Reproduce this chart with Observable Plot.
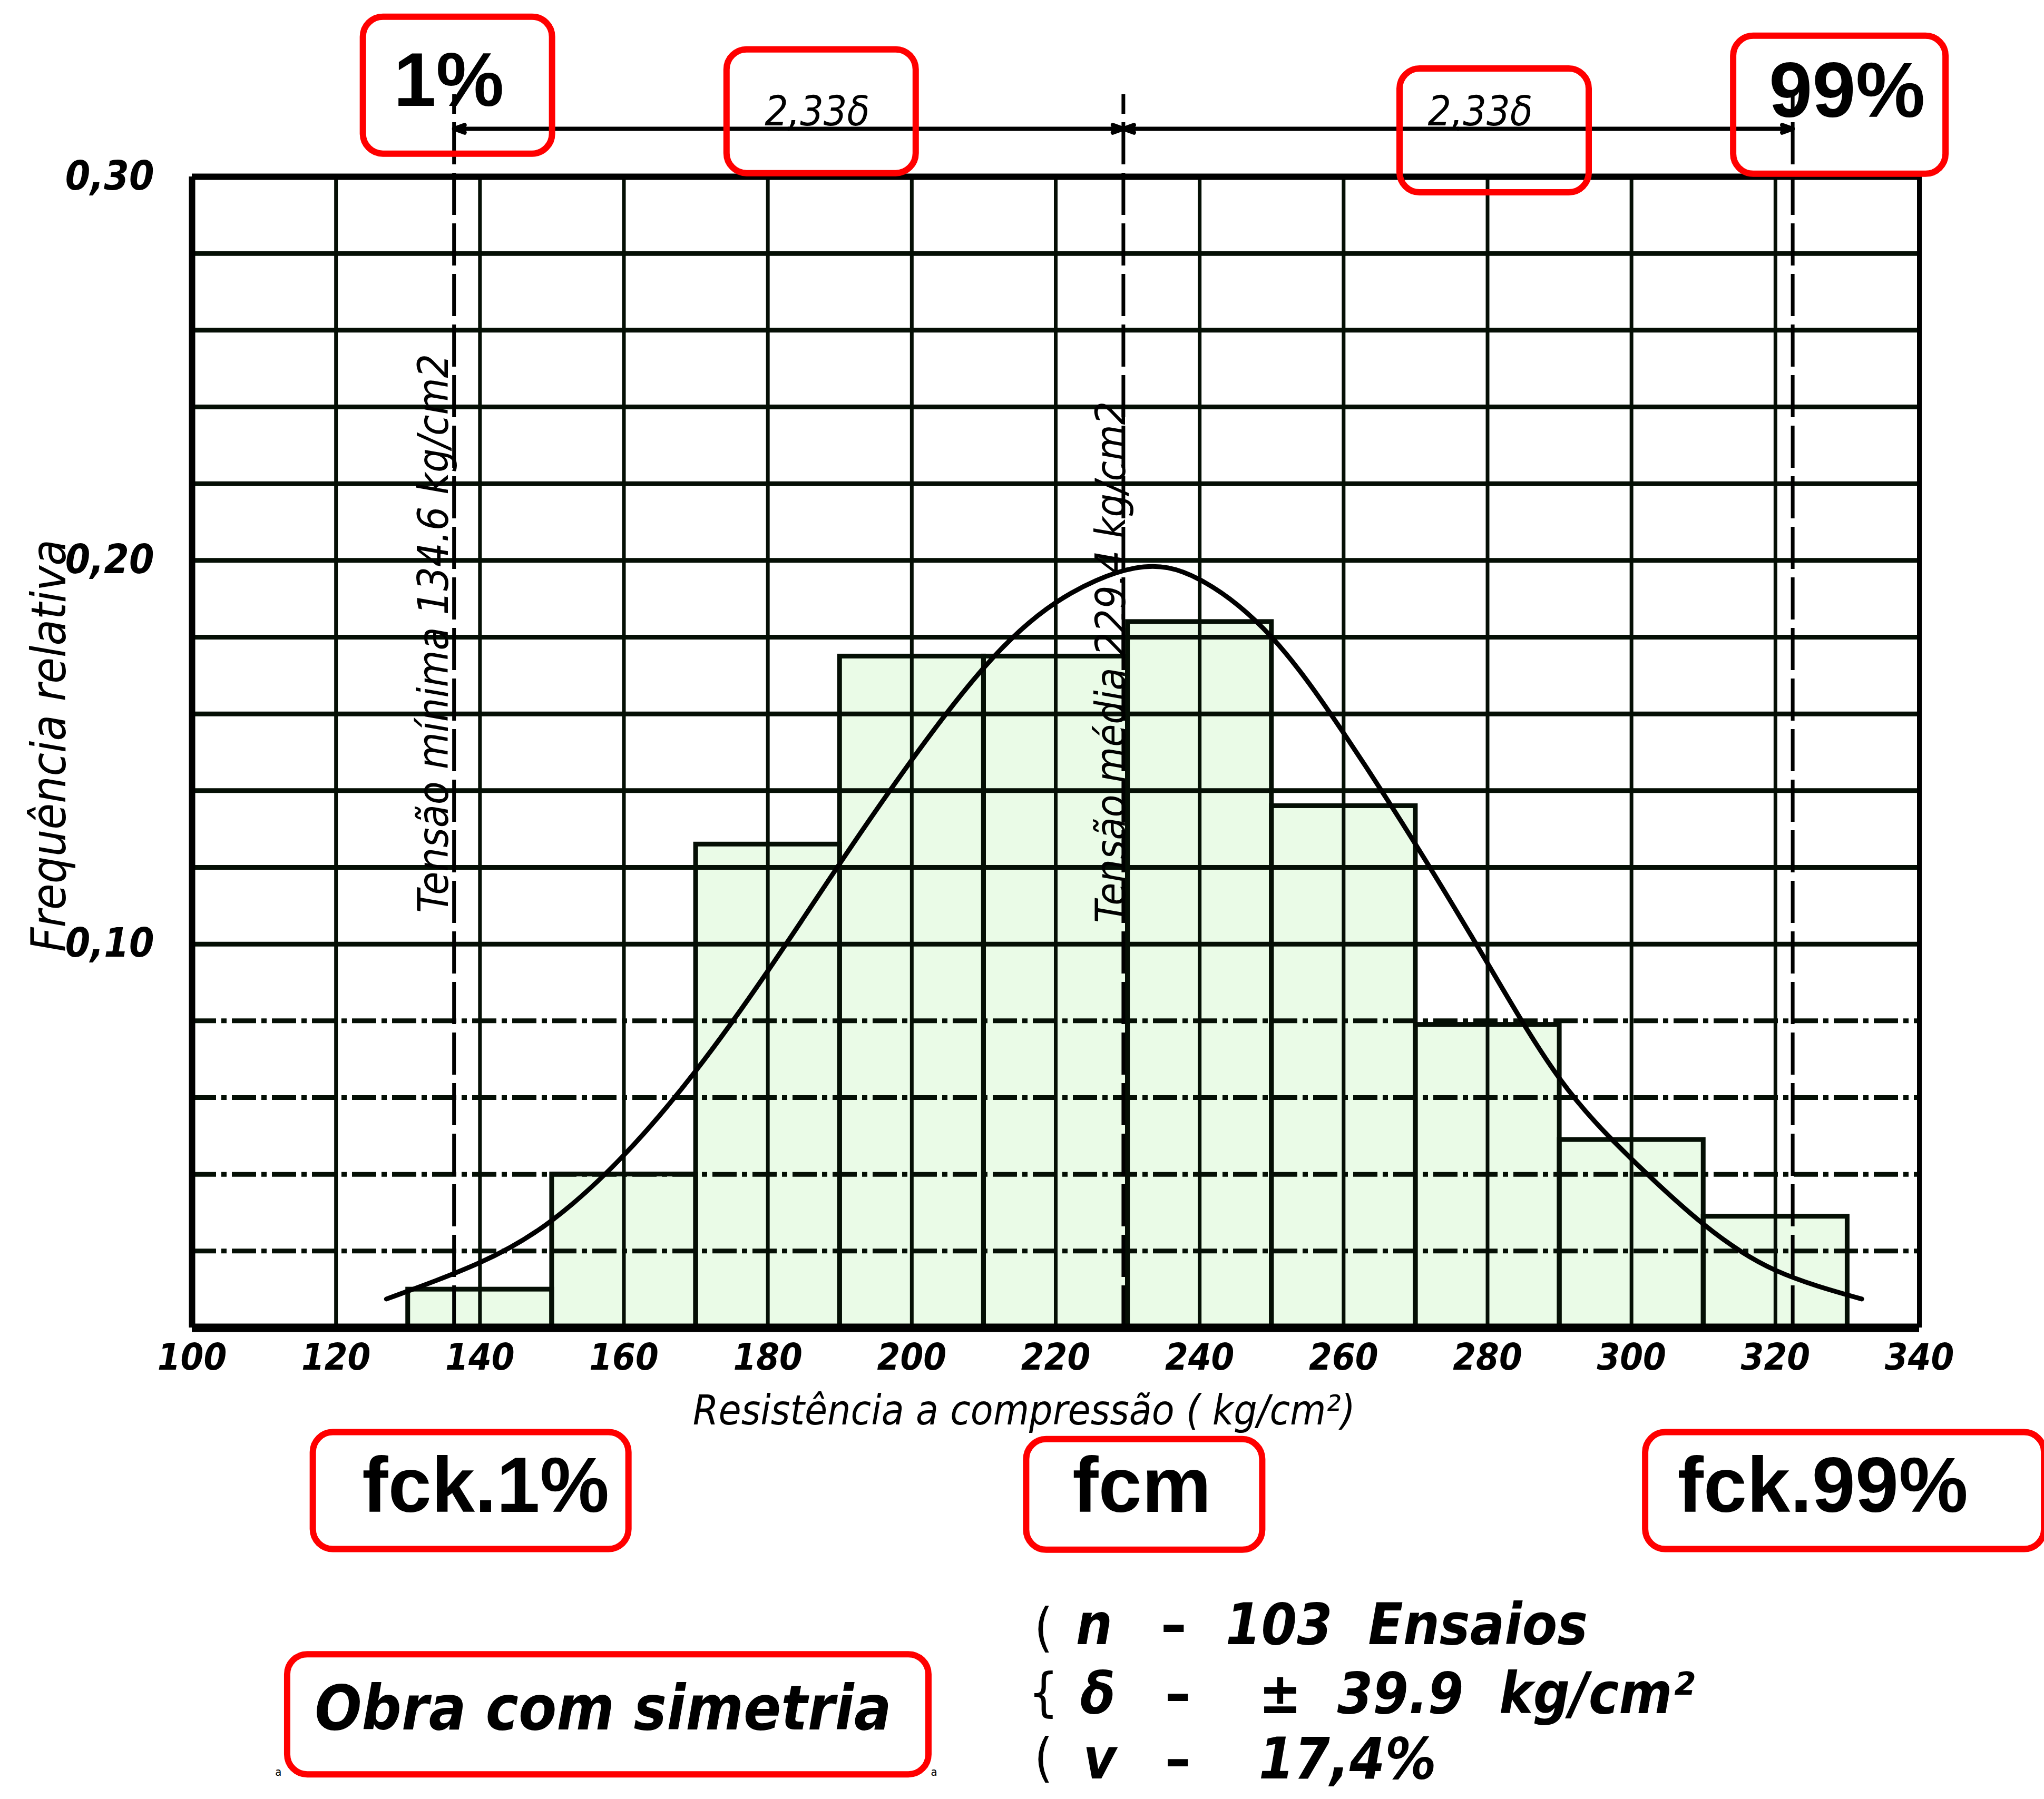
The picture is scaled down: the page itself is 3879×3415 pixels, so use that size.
<!DOCTYPE html>
<html>
<head>
<meta charset="utf-8">
<script src="https://cdn.jsdelivr.net/npm/d3@7"></script>
<script src="https://cdn.jsdelivr.net/npm/@observablehq/plot@0.6"></script>
<style>
  html, body { margin: 0; padding: 0; background: #ffffff; }
  #chart svg { display: block; }
</style>
</head>
<body>
<div id="chart"></div>
<script>
// ---------- data ----------
const binStart = [130, 150, 170, 190, 210, 230, 250, 270, 290, 310];
const binEnd   = [150, 170, 190, 210, 230, 250, 270, 290, 310, 330];
const relFreq  = [0.010, 0.040, 0.126, 0.175, 0.175, 0.184, 0.136, 0.079, 0.049, 0.029];

const curveX = [127, 140, 150, 160, 170, 180, 190, 200, 210, 220, 231, 240, 250, 260, 270, 280, 290, 300, 310, 320, 332];
const curveY = [0.0075, 0.017, 0.028, 0.045, 0.067, 0.093, 0.121, 0.148, 0.172, 0.189, 0.198, 0.195, 0.180, 0.155, 0.126, 0.095, 0.065, 0.044, 0.027, 0.015, 0.0075];

const xTicks = [100, 120, 140, 160, 180, 200, 220, 240, 260, 280, 300, 320, 340];
const yTicks = [0.10, 0.20, 0.30];
const yTickLabels = ["0,10", "0,20", "0,30"];

const gridXValues  = [120, 140, 160, 180, 200, 220, 240, 260, 280, 300, 320];
const gridYSolid   = [0.10, 0.12, 0.14, 0.16, 0.18, 0.20, 0.22, 0.24, 0.26, 0.28];
const gridYDashed  = [0.02, 0.04, 0.06, 0.08];

const refNames  = ["fck.1%", "fcm", "fck.99%"];
const refValues = [136.4, 229.4, 322.4];
const refLabels = ["Tensão mínima 134.6 kg/cm2", "Tensão média 229.4 kg/cm2"];
const topLabels = ["1%", "99%"];
const sigmaLabel = "2,33δ";
const xTitle = "Resistência a compressão ( kg/cm²)";
const yTitle = "Frequência relativa";
const noteText = "Obra com simetria";
const statSymbols = ["n", "δ", "v"];
const statValues  = ["103  Ensaios", "±  39.9  kg/cm²", "17,4%"];
const braceParts  = ["(", "{", "("];

// ---------- tables built from the arrays ----------
const bars  = binStart.map((s, i) => ({x1: s, x2: binEnd[i], f: relFreq[i]}));
const curve = curveX.map((x, i) => ({x, y: curveY[i]}));
const refs  = refValues.map((x, i) => ({x, name: refNames[i]}));
const mid1 = (refValues[0] + refValues[1]) / 2;
const mid2 = (refValues[1] + refValues[2]) / 2;

const COND = "'DejaVu Sans Condensed', 'Liberation Sans', sans-serif";
const BOLD = "'Liberation Sans', Arial, sans-serif";
const INK = "#050f05";
const RED = "#ff0000";
const DIM_Y = 0.3125;
const statRowsY = [-0.0825, -0.1005, -0.1175];
const braceRowsY = [-0.0784, -0.0954, -0.1124];

function redBox(x, y, w, h, dx) {
  return Plot.rect([{x, y}], {
    x1: "x", x2: "x", y1: "y", y2: "y",
    insetLeft: -w / 2, insetRight: -w / 2, insetTop: -h / 2, insetBottom: -h / 2,
    dx: dx || 0, rx: 38, fill: "none", stroke: RED, strokeWidth: 12
  });
}

const chart = Plot.plot({
  width: 3879,
  height: 3415,
  marginLeft: 364,
  marginRight: 237,
  marginTop: 335,
  marginBottom: 895,
  x: {domain: [100, 340]},
  y: {domain: [0, 0.30]},
  style: {background: "#ffffff", color: "#000000", fontFamily: COND},
  marks: [
    // histogram fill
    Plot.rect(bars, {x1: "x1", x2: "x2", y1: 0, y2: "f", fill: "#eafbe7"}),
    // grid
    Plot.ruleX(gridXValues, {y1: 0, y2: 0.30, stroke: INK, strokeWidth: 7}),
    Plot.ruleY(gridYSolid, {x1: 100, x2: 340, stroke: INK, strokeWidth: 9}),
    Plot.ruleY(gridYDashed, {x1: 100, x2: 340, stroke: INK, strokeWidth: 9, strokeDasharray: "46,10,10,10"}),
    // histogram outlines
    Plot.rect(bars, {x1: "x1", x2: "x2", y1: 0, y2: "f", fill: "none", stroke: INK, strokeWidth: 9}),
    // frame
    Plot.ruleX([100], {y1: 0, y2: 0.30, stroke: "#000", strokeWidth: 12}),
    Plot.ruleX([340], {y1: 0, y2: 0.30, stroke: "#000", strokeWidth: 9}),
    Plot.ruleY([0.30], {x1: 100, x2: 340, stroke: "#000", strokeWidth: 12}),
    Plot.ruleY([0], {x1: 100, x2: 340, stroke: "#000", strokeWidth: 16}),
    // reference (dashed) lines
    Plot.ruleX(refs, {x: "x", y1: 0, y2: DIM_Y + 0.009, stroke: "#000", strokeWidth: 7, strokeDasharray: "80,16"}),
    // dimension line 2,33δ
    Plot.arrow([
      {a: mid1, b: refValues[0]}, {a: mid1, b: refValues[1]},
      {a: mid2, b: refValues[1]}, {a: mid2, b: refValues[2]}
    ], {x1: "a", x2: "b", y1: DIM_Y, y2: DIM_Y, stroke: "#000", strokeWidth: 8, headLength: 4, headAngle: 40}),
    // normal curve
    Plot.line(curve, {x: "x", y: "y", curve: "natural", stroke: "#000", strokeWidth: 9}),
    // rotated labels along the dashed lines
    Plot.text([refLabels[0]], {x: refValues[0], y: 0.181, dx: -37, rotate: -90, text: d => d,
      fontSize: 80, fontStyle: "italic", fill: "#000", textAnchor: "middle", lineAnchor: "middle"}),
    Plot.text([refLabels[1]], {x: refValues[1], y: 0.1735, dx: -22, rotate: -90, text: d => d,
      fontSize: 78, fontStyle: "italic", fill: "#000", textAnchor: "middle", lineAnchor: "middle"}),
    // axes
    Plot.axisX(xTicks, {tickSize: 0, tickPadding: 30, fontSize: 70, fontStyle: "italic", fontWeight: "bold", label: null}),
    Plot.axisY(yTicks, {tickSize: 0, tickPadding: 72, fontSize: 76, fontStyle: "italic", fontWeight: "bold",
      tickFormat: d => yTickLabels[yTicks.indexOf(d)], label: null}),
    Plot.text([xTitle], {x: 215.6, y: -0.0218, text: d => d, fontSize: 78, fontStyle: "italic", lineAnchor: "middle"}),
    Plot.text([yTitle], {x: 80.3, y: 0.1517, text: d => d, rotate: -90, fontSize: 90, fontStyle: "italic", lineAnchor: "middle"}),
    // top annotations
    redBox(refValues[0], 0.3238, 359, 260, 7),
    Plot.text([topLabels[0]], {x: refValues[0], y: 0.3248, dx: -10, text: d => d, fontFamily: BOLD, fontWeight: "bold", fontSize: 145, lineAnchor: "middle"}),
    redBox(refValues[2], 0.3187, 403, 262, 89),
    Plot.text([topLabels[1]], {x: refValues[2], y: 0.3221, dx: 103, text: d => d, fontFamily: BOLD, fontWeight: "bold", fontSize: 148, lineAnchor: "middle"}),
    redBox(mid1, 0.317, 359, 235, 62),
    Plot.text([sigmaLabel], {x: mid1, y: DIM_Y, dx: 54, dy: -6, text: d => d, fontSize: 78, fontStyle: "italic", lineAnchor: "bottom"}),
    redBox(mid2, 0.312, 359, 235, 69),
    Plot.text([sigmaLabel], {x: mid2, y: DIM_Y, dx: 42, dy: -6, text: d => d, fontSize: 78, fontStyle: "italic", lineAnchor: "bottom"}),
    // bottom annotations
    redBox(refValues[0], -0.0425, 599, 222, 32),
    Plot.text([refNames[0]], {x: refValues[0], y: -0.0415, dx: 60, text: d => d, fontFamily: BOLD, fontWeight: "bold", fontSize: 148, lineAnchor: "middle"}),
    redBox(refValues[1], -0.0435, 448, 210, 40),
    Plot.text([refNames[1]], {x: refValues[1], y: -0.0415, dx: 35, text: d => d, fontFamily: BOLD, fontWeight: "bold", fontSize: 148, lineAnchor: "middle"}),
    redBox(refValues[2], -0.0425, 757, 222, 99),
    Plot.text([refNames[2]], {x: refValues[2], y: -0.0415, dx: 57, text: d => d, fontFamily: BOLD, fontWeight: "bold", fontSize: 148, lineAnchor: "middle"}),
    redBox(157.8, -0.1008, 1217, 228, 0),
    Plot.text([noteText], {x: 157.1, y: -0.0995, text: d => d, fontSize: 117, fontStyle: "italic", fontWeight: "bold", lineAnchor: "middle"}),
    Plot.text(["a", "a"], {x: [112, 203.1], y: -0.1158, text: d => d, fontSize: 22}),
    // statistics block
    Plot.text(braceParts, {x: 218.3, y: braceRowsY, text: d => d, fontSize: 100, lineAnchor: "middle"}),
    Plot.text(statSymbols, {x: [222.8, 223.4, 223.8], y: statRowsY, text: d => d,
      fontSize: 108, fontStyle: "italic", fontWeight: "bold", textAnchor: "start", lineAnchor: "bottom"}),
    Plot.text(statSymbols.map(() => "–"), {x: [234.6, 235.2, 235.2], y: statRowsY, text: d => d,
      fontSize: 108, fontWeight: "bold", textAnchor: "start", lineAnchor: "bottom"}),
    Plot.text(statValues, {x: [243.6, 248.2, 248.2], y: statRowsY, text: d => d,
      fontSize: 108, fontStyle: "italic", fontWeight: "bold", textAnchor: "start", lineAnchor: "bottom"})
  ]
});

document.getElementById("chart").appendChild(chart);
</script>
</body>
</html>
